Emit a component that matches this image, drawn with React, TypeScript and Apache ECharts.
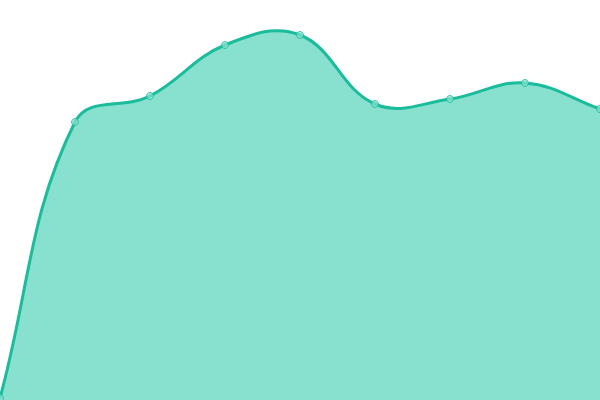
import React, { useEffect, useRef } from 'react';
import * as echarts from 'echarts';

const categories = ['1', '2', '3', '4', '5', '6', '7', '8', '9'];
const values = [2, 278, 304, 355, 365, 296, 301, 317, 291];

const LINE_COLOR = '#1abc9c';
const FILL_COLOR = '#88e0cf';
const TENSION = 0.4;

type Pt = { x: number; y: number };

// spline control points (tension based, like a cardinal spline)
const controlPoints = (a: Pt, b: Pt, c: Pt, t: number) => {
	const d01 = Math.hypot(b.x - a.x, b.y - a.y);
	const d12 = Math.hypot(c.x - b.x, c.y - b.y);
	let s01 = d01 / (d01 + d12);
	let s12 = d12 / (d01 + d12);
	if (isNaN(s01)) s01 = 0;
	if (isNaN(s12)) s12 = 0;
	const fa = t * s01;
	const fb = t * s12;
	return {
		prev: { x: b.x - fa * (c.x - a.x), y: b.y - fa * (c.y - a.y) },
		next: { x: b.x + fb * (c.x - a.x), y: b.y + fb * (c.y - a.y) }
	};
};

const App: React.FC = () => {
	const chartRef = useRef<HTMLDivElement>(null);

	useEffect(() => {
		if (!chartRef.current) return;
		const chart = echarts.init(chartRef.current, null, { renderer: 'svg' });

		const renderCurve = (params: any, api: any) => {
			if (params.dataIndex !== 0) return null;
			const area = params.coordSys;
			const clamp = (p: Pt) => ({
				x: Math.min(Math.max(p.x, area.x), area.x + area.width),
				y: Math.min(Math.max(p.y, area.y), area.y + area.height)
			});
			const pts: Pt[] = values.map((v, i) => {
				const c = api.coord([i, v]);
				return { x: c[0], y: c[1] };
			});
			const cps = pts.map((p, i) =>
				controlPoints(pts[i - 1] || p, p, pts[Math.min(i + 1, pts.length - 1)], TENSION)
			);
			let d = `M${pts[0].x},${pts[0].y}`;
			for (let i = 1; i < pts.length; i++) {
				const c1 = clamp(cps[i - 1].next);
				const c2 = clamp(cps[i].prev);
				d += ` C${c1.x},${c1.y} ${c2.x},${c2.y} ${pts[i].x},${pts[i].y}`;
			}
			const base = api.coord([0, 0])[1];
			const areaD = `${d} L${pts[pts.length - 1].x},${base} L${pts[0].x},${base} Z`;
			return {
				type: 'group',
				children: [
					{ type: 'path', shape: { pathData: areaD }, style: { fill: FILL_COLOR, stroke: 'none' } },
					{
						type: 'path',
						shape: { pathData: d },
						style: { fill: 'none', stroke: LINE_COLOR, lineWidth: 3 }
					}
				]
			};
		};

		const option: echarts.EChartsOption = {
			animation: false,
			grid: { left: 0, right: 0, top: 0, bottom: 0 },
			xAxis: {
				type: 'category',
				data: categories,
				boundaryGap: false,
				show: false
			},
			yAxis: {
				type: 'value',
				min: 0,
				max: 400,
				show: false
			},
			series: [
				{
					type: 'custom',
					renderItem: renderCurve as any,
					data: values.map((v, i) => [i, v]),
					clip: true
				},
				{
					type: 'scatter',
					data: values.map((v, i) => [i, v]),
					symbol: 'circle',
					symbolSize: 7,
					itemStyle: {
						color: 'rgba(136, 224, 207, 0.9)',
						borderColor: LINE_COLOR,
						borderWidth: 1
					},
					z: 3
				}
			]
		};

		chart.setOption(option);

		return () => {
			chart.dispose();
		};
	}, []);

	return (
		<div
			ref={chartRef}
			style={{ position: 'fixed', left: 0, top: 0, width: '600px', height: '400px' }}
		/>
	);
};

export default App;
